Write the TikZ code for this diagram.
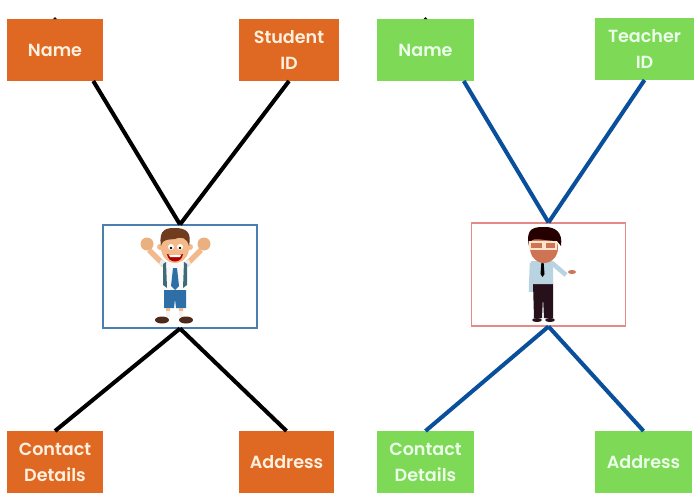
\documentclass[tikz,border=0pt]{standalone}
\usepackage{fontspec}
\setmainfont{Poppins}[BoldFont={Poppins SemiBold}]
\usetikzlibrary{ positioning }
\definecolor{boxorange}{HTML}{DF6922}
\definecolor{boxgreen}{HTML}{7ED957}
\definecolor{edgeblue}{HTML}{0A4F9C}
\definecolor{framepink}{HTML}{E58A86}
\definecolor{frameblue}{HTML}{4A7FB0}
\definecolor{skin}{HTML}{F3B98A}
\definecolor{hairbrown}{HTML}{6F3D1E}
\definecolor{uniform}{HTML}{2F6FA8}
\definecolor{strap}{HTML}{3E6B78}
\definecolor{shoebrown}{HTML}{4E2A1A}
\definecolor{tanface}{HTML}{CF7355}
\definecolor{shirtblue}{HTML}{B9D3E0}
\definecolor{pants}{HTML}{26101A}
\tikzset{
  basebox/.style={minimum width=1.94cm, minimum height=1.24cm, inner sep=0pt, outer sep=0pt,
    align=center, font=\fontsize{10}{14.7}\selectfont\bfseries},
  orangebox/.style={basebox, fill=boxorange, text=white!88!orange},
  greenbox/.style={basebox, fill=boxgreen, text=white!92!green},
  photoframe/.style={draw, line width=0.6pt, minimum width=3.08cm, minimum height=2.06cm, inner sep=0pt},
  blackedge/.style={line width=2.3pt, black},
  blueedge/.style={line width=2.3pt, edgeblue},
}

\begin{document}
\begin{tikzpicture}[x=0.02cm,y=-0.02cm]
  \useasboundingbox (0,0) rectangle (700,500);%keep the margins of the page

  % student side
  \node[photoframe, draw=frameblue] (student) at (180,276.5) {};
  \node[orangebox, above left=2.87cm and -0.02cm of student] (nameS) {Name};
  \node[orangebox, minimum width=2.02cm, above right=2.87cm and -0.38cm of student] (idS) {Student\\ID};
  \node[orangebox, below left=2.05cm and -0.02cm of student] (contactS) {Contact\\Details};
  \node[orangebox, minimum width=1.92cm, below right=2.05cm and -0.38cm of student] (addressS) {Address};

  \path[blackedge] (nameS.-39) edge (student.north)
  (idS.south) edge (student.north)
  (contactS.north) edge (student.south)
  (addressS.north) edge (student.south);
  \fill[black] (nameS.north) ++(-2,0) -- ++(2,-2) -- ++(2,2) -- cycle;

  % teacher side
  \node[photoframe, draw=framepink] (teacher) at (548.5,274.5) {};
  \node[greenbox, above left=2.83cm and -0.06cm of teacher] (nameT) {Name};
  \node[greenbox, minimum width=1.98cm, above right=2.85cm and -0.62cm of teacher] (idT) {Teacher\\ID};
  \node[greenbox, below left=2.09cm and -0.06cm of teacher] (contactT) {Contact\\Details};
  \node[greenbox, below right=2.09cm and -0.62cm of teacher] (addressT) {Address};

  \path[blueedge] (nameT.-39) edge (teacher.north)
  (idT.south) edge (teacher.north)
  (contactT.north) edge (teacher.south)
  (addressT.north) edge (teacher.south);
  \fill[black] (nameT.north) ++(-2,0) -- ++(2,-2) -- ++(2,2) -- cycle;

  % boy in the left frame
  \draw[skin, line width=3.2pt] (149,250) -- (164,265) (201,250) -- (186,265);
  \fill[skin!85!brown] (147,244) circle (6.5) (204,244) circle (6.5);
  \draw[white!85!gray, line width=3pt] (160,262) -- (167,265) (190,262) -- (183,265);
  \fill[white!95!gray] (164,263) -- (186,263) -- (185,292) -- (165,292) -- cycle;
  \fill[strap] (163,264) -- (166,262) -- (167,288) -- (163,285) -- cycle
  (187,264) -- (184,262) -- (183,288) -- (187,285) -- cycle;
  \fill[uniform] (173,268) -- (177,268) -- (179,286) -- (175,290) -- (171,286) -- cycle;
  \fill[uniform] (164,290) -- (186,290) -- (186,308) -- (176,308) -- (175,299) -- (174,308) -- (164,308) -- cycle;
  \fill[skin] (166,308) rectangle (170,311) (179,308) rectangle (183,311);
  \fill[white!90!gray] (166,311) rectangle (170,317) (179,311) rectangle (183,317);
  \fill[shoebrown] (162,320) ellipse (7 and 3.5) (186,320) ellipse (7 and 3.5);
  \fill[skin] (160,247) circle (3) (190,247) circle (3);
  \fill[skin] (175,248) ellipse (14 and 15);
  \fill[hairbrown] (161,246) .. controls (158,228) and (168,228) .. (175,228)
  .. controls (186,228) and (192,232) .. (189,246)
  .. controls (187,238) and (182,236) .. (175,239) .. controls (169,240) and (163,238) .. (161,246) -- cycle;
  \fill[white] (171,247) circle (3) (180,247) circle (3);
  \fill[black] (171,248) circle (1.3) (180,248) circle (1.3);
  \fill[red!70!black] (167,254) .. controls (171,256) and (179,256) .. (183,254) .. controls (182,264) and (168,264) .. (167,254) -- cycle;
  \fill[white] (169,255) -- (181,255) -- (180,257) -- (170,257) -- cycle;

  % teacher in the right frame
  \draw[shirtblue, line width=2.6pt] (532,263) -- (531,292);
  \draw[shirtblue, line width=2.6pt] (552,263) -- (566,275);
  \fill[tanface] (572,272) ellipse (4 and 2);
  \fill[pants] (533,283) -- (553,283) -- (553,318) -- (544,318) -- (543,297) -- (542,318) -- (534,318) -- cycle;
  \fill[shirtblue] (531,261) -- (553,261) -- (553,284) -- (533,284) -- cycle;
  \fill[black] (541.5,261) -- (543.5,261) -- (544.5,274) -- (542.5,277) -- (540.5,274) -- cycle;
  \fill[pants] (537,320) ellipse (5 and 2) (550,320) ellipse (5 and 2);
  \fill[tanface] (544,248) ellipse (14 and 15);
  \fill[black!85!red] (529,246) .. controls (525,227) and (535,227) .. (545,227)
  .. controls (555,227) and (563,232) .. (561,246) -- (557,241) .. controls (549,241) and (537,238) .. (532,240) -- cycle;
  \draw[white!80!orange, line width=0.8pt] (530,242) rectangle (543,249) (545,242) rectangle (556,249);
\end{tikzpicture}
\end{document}
